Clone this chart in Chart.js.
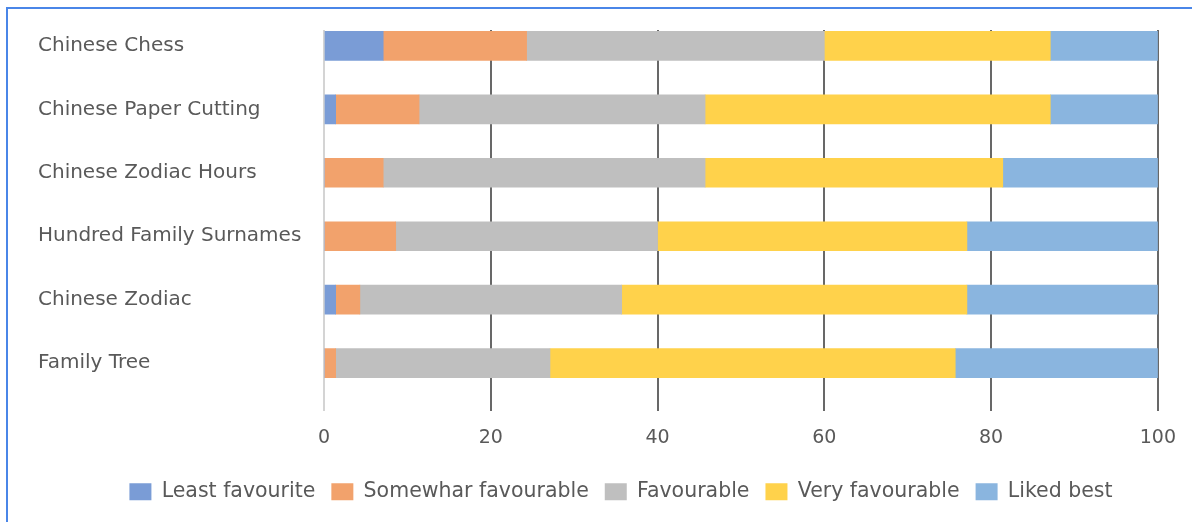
<!DOCTYPE html>
<html>
<head>
<meta charset="utf-8">
<script src="https://cdn.jsdelivr.net/npm/chart.js@4"></script>
<style>
  html, body { margin: 0; padding: 0; background: #fff; }
  #wrap { position: relative; width: 1192px; height: 522px; }
  #frame { position: absolute; left: 6px; top: 7px; right: 0; bottom: 0;
           border-left: 2px solid #4a86e8; border-top: 2px solid #4a86e8; pointer-events: none; }
</style>
</head>
<body>
<div id="wrap">
  <canvas id="chart" width="1192" height="522"></canvas>
  <div id="frame"></div>
</div>
<script>
// percentages of respondents per activity
var activities = ['Chinese Chess', 'Chinese Paper Cutting', 'Chinese Zodiac Hours', 'Hundred Family Surnames', 'Chinese Zodiac', 'Family Tree'];
var leastFavourite   = [7.1, 1.4, 0,    0,    1.4,  0];
var somewhatFav      = [17.2, 10.0, 7.1, 8.6, 2.9,  1.4];
var favourable       = [35.7, 34.3, 38.6, 31.4, 31.4, 25.7];
var veryFavourable   = [27.1, 41.4, 35.7, 37.1, 41.4, 48.6];
var likedBest        = [12.9, 12.9, 18.6, 22.9, 22.9, 24.3];
var xTicks = [0, 20, 40, 60, 80, 100];

var textColor = '#595959';
var font = 'DejaVu Sans';

function pts(arr) {
  return arr.map(function (v, i) { return { x: v, y: i }; });
}

function ds(label, arr, color) {
  return { label: label, data: pts(arr), backgroundColor: color, borderWidth: 0, barThickness: 29 };
}

// legend sits a bit right of centre in the original
var shiftLegend = {
  id: 'shiftLegend',
  afterLayout: function (c) { c.legend.left += 19; c.legend.right += 19; }
};

new Chart(document.getElementById('chart'), {
  type: 'bar',
  data: {
    datasets: [
      ds('Least favourite', leastFavourite, '#7a9cd6'),
      ds('Somewhar favourable', somewhatFav, '#f2a26c'),
      ds('Favourable', favourable, '#bfbfbf'),
      ds('Very favourable', veryFavourable, '#ffd24b'),
      ds('Liked best', likedBest, '#8ab5df')
    ]
  },
  plugins: [shiftLegend],
  options: {
    indexAxis: 'y',
    responsive: false,
    animation: false,
    layout: { padding: { left: 38, right: 26, top: 30, bottom: 10 } },
    scales: {
      x: {
        type: 'linear',
        stacked: true,
        min: 0,
        max: 100,
        z: 1,
        afterBuildTicks: function (s) { s.ticks = xTicks.map(function (v) { return { value: v }; }); },
        border: { display: false },
        grid: {
          drawTicks: false,
          lineWidth: 2,
          color: function (c) { return c.tick && c.tick.value === 0 ? '#d4d4d4' : 'rgba(40,40,40,0.7)'; }
        },
        ticks: { color: textColor, padding: 16, font: { family: font, size: 19 } }
      },
      y: {
        type: 'linear',
        stacked: true,
        reverse: true,
        offset: false,
        min: -0.25,
        max: 5.75,
        afterBuildTicks: function (s) { s.ticks = activities.map(function (a, i) { return { value: i }; }); },
        afterFit: function (s) { s.width = 324 - 38; },
        border: { display: false },
        grid: { display: false },
        ticks: {
          crossAlign: 'far',
          color: textColor,
          font: { family: font, size: 20 },
          callback: function (v) { return activities[v]; }
        }
      }
    },
    plugins: {
      tooltip: { enabled: false },
      legend: {
        position: 'bottom',
        labels: {
          color: textColor,
          boxWidth: 22,
          boxHeight: 17,
          padding: 16,
          font: { family: font, size: 20.5 }
        }
      }
    }
  }
});
</script>
</body>
</html>
